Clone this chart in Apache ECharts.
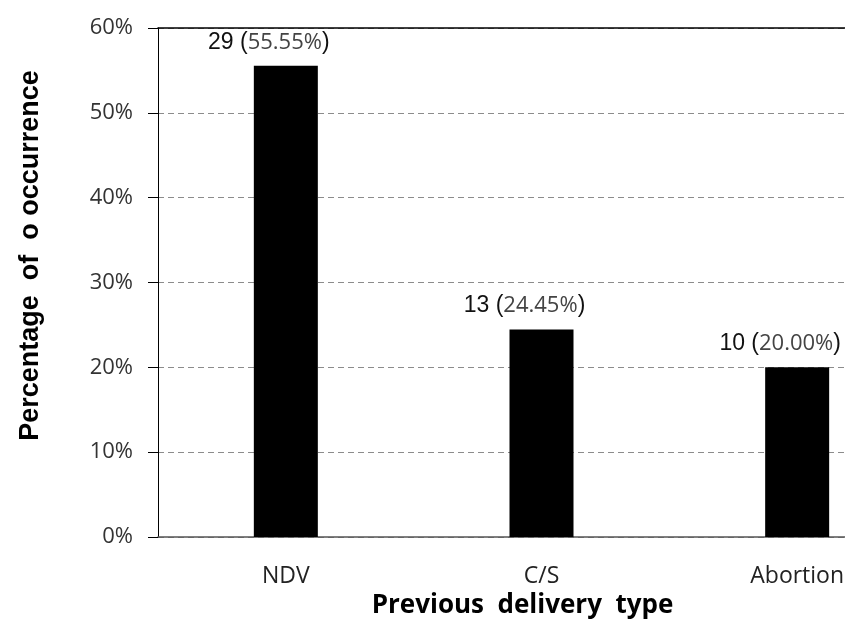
<!DOCTYPE html>
<html><head><meta charset="utf-8">
<script src="https://cdn.jsdelivr.net/npm/echarts@6/dist/echarts.min.js"></script>
<style>html,body{margin:0;padding:0;background:#fff;overflow:hidden;width:845px;height:625px}#c{width:925px;height:625px}</style>
</head><body><div id="c"></div>
<script>
var categories = ['NDV', 'C/S', 'Abortion'];
var counts = [29, 13, 10];
var percents = [55.55, 24.45, 20.00];
var yTicks = ['0%', '10%', '20%', '30%', '40%', '50%', '60%'];

var chart = echarts.init(document.getElementById('c'));
chart.setOption({
  animation: false,
  backgroundColor: '#ffffff',
  grid: { left: 158, right: 0, top: 28, bottom: 88 },
  xAxis: [{
    type: 'category', data: categories, position: 'bottom',
    axisLine: { lineStyle: { color: '#555', width: 1.5 } },
    axisTick: { show: false },
    axisLabel: { margin: 28, fontFamily: 'Open Sans', fontSize: 23, color: '#222' },
    name: 'Previous  delivery  type', nameLocation: 'middle', nameGap: 55,
    nameTextStyle: { fontFamily: 'Open Sans', fontWeight: 'bold', fontSize: 26, color: '#000', padding: [0, 38, 0, 0] }
  }, {
    type: 'category', data: categories, position: 'top',
    axisLine: { show: true, lineStyle: { color: '#000', width: 1.5 } },
    axisTick: { show: false }, axisLabel: { show: false }
  }],
  yAxis: {
    type: 'value', min: 0, max: 60, interval: 10,
    axisLine: { show: true, lineStyle: { color: '#000', width: 1 } },
    axisTick: { show: true, inside: false, length: 10, lineStyle: { color: '#000' } },
    axisLabel: { margin: 25, fontFamily: 'Open Sans', fontSize: 22, color: '#333',
      formatter: function (v) { return yTicks[Math.round(v / 10)]; } },
    splitLine: { show: true, lineStyle: { color: '#8c8c8c', type: [6, 4], width: 1 } },
    name: 'Percentage  of  o occurrence', nameLocation: 'middle', nameGap: 114, nameRotate: 90,
    nameTextStyle: { fontFamily: 'Liberation Sans', fontWeight: 'bold', fontSize: 27, color: '#000', padding: [0, 0, 0, 54] }
  },
  series: [{
    type: 'bar', data: percents, barWidth: 64, xAxisIndex: 0,
    itemStyle: { color: '#000' },
    label: {
      show: true, position: 'top', distance: 12, offset: [-17, 0],
      formatter: function (p) { return '{a|' + counts[p.dataIndex] + ' (}{b|' + percents[p.dataIndex].toFixed(2) + '%}{a|)}'; },
      rich: {
        a: { fontFamily: 'Liberation Sans', fontSize: 23, color: '#111' },
        b: { fontFamily: 'Open Sans', fontSize: 22, color: '#444' }
      }
    }
  }]
});
</script></body></html>
